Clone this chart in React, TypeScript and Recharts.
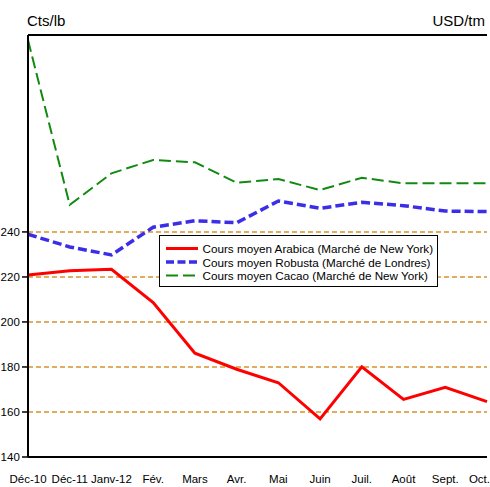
import React from "react";
import {
  LineChart,
  Line,
  XAxis,
  YAxis,
  CartesianGrid,
  ReferenceLine,
  Legend,
} from "recharts";

const months = ["Déc-10", "Déc-11", "Janv-12", "Fév.", "Mars", "Avr.", "Mai", "Juin", "Juil.", "Août", "Sept.", "Oct."];
const arabica = [220.9, 222.7, 223.4, 208.6, 186.1, 179, 173, 156.9, 180.1, 165.6, 171, 164.6];
const robusta = [1938, 1870, 1827, 1976, 2011, 2000, 2117, 2078, 2110, 2092, 2063, 2060];
const cacao = [2983, 2096, 2266, 2338, 2325, 2216, 2235, 2176, 2242, 2212, 2212, 2212];

const leftTicks = [140, 160, 180, 200, 220, 240];
const rightTicks = [1800, 2000, 2200, 2400, 2600, 2800, 3000];
const leftDomain = [140, 327.5];
const rightDomain = [740, 3010];

const seriesNames = [
  "Cours moyen Arabica (Marché de New York)",
  "Cours moyen Robusta (Marché de Londres)",
  "Cours moyen Cacao (Marché de New York)",
];

const data = months.map((m, i) => ({
  month: m,
  arabica: arabica[i],
  robusta: robusta[i],
  cacao: cacao[i],
}));

const FONT = "'Liberation Sans', Arial, sans-serif";

const XTick = (props: any) => {
  const { x, y, payload, index } = props;
  const last = index === months.length - 1;
  return (
    <text
      x={last ? x + 3 : x}
      y={y}
      dy="0.71em"
      textAnchor={last ? "end" : "middle"}
      fontSize={11.5}
      fontFamily={FONT}
      fill="#000"
    >
      {payload.value}
    </text>
  );
};

const YTick = (props: any) => {
  const { y, payload } = props;
  return (
    <text
      x={19.8}
      y={y}
      dy="0.355em"
      textAnchor="end"
      fontSize={11.5}
      fontFamily={FONT}
      fill="#000"
    >
      {payload.value}
    </text>
  );
};

const legendStyles = [
  { stroke: "#FF0000", width: 3, dash: undefined as string | undefined },
  { stroke: "#3A2EE8", width: 3.5, dash: "8 3.5" },
  { stroke: "#128A12", width: 2, dash: "12 5" },
];

const LegendBox = () => (
  <div
    style={{
      width: 279,
      height: 52,
      boxSizing: "border-box",
      border: "1.5px solid #000",
      background: "#fff",
    }}
  >
    <svg width={276} height={49} style={{ display: "block" }}>
      {seriesNames.map((name, i) => {
        const cy = 12.5 + i * 13.5;
        const s = legendStyles[i];
        return (
          <g key={name}>
            <line
              x1={6}
              x2={38}
              y1={cy}
              y2={cy}
              stroke={s.stroke}
              strokeWidth={s.width}
              strokeDasharray={s.dash}
            />
            <text
              x={42.5}
              y={cy + 4.5}
              fontSize={11.7}
              fontFamily={FONT}
              fill="#000"
            >
              {name}
            </text>
          </g>
        );
      })}
    </svg>
  </div>
);

export default function App() {
  return (
    <div style={{ position: "absolute", left: 0, top: 0, width: 490, height: 487, background: "#fff" }}>
      <div
        style={{
          position: "absolute",
          left: 27,
          top: 13,
          fontFamily: FONT,
          fontSize: 15,
          lineHeight: "15px",
          color: "#000",
        }}
      >
        Cts/lb
      </div>
      <div
        style={{
          position: "absolute",
          right: 5,
          top: 13,
          fontFamily: FONT,
          fontSize: 15,
          lineHeight: "15px",
          color: "#000",
        }}
      >
        USD/tm
      </div>
      <LineChart
        width={490}
        height={487}
        data={data}
        margin={{ top: 35, right: 3, bottom: 0, left: 0 }}
      >
        <CartesianGrid
          yAxisId="left"
          vertical={false}
          stroke="#D9922B"
          strokeWidth={1.5}
          strokeDasharray="5 3"
        />
        <XAxis
          dataKey="month"
          height={30}
          axisLine={{ stroke: "#000", strokeWidth: 2 }}
          tickLine={false}
          tickMargin={12}
          interval={0}
          tick={<XTick />}
        />
        <YAxis
          yAxisId="left"
          orientation="left"
          width={28}
          domain={leftDomain}
          ticks={leftTicks}
          allowDataOverflow
          axisLine={{ stroke: "#000", strokeWidth: 2 }}
          tickLine={{ stroke: "#000", strokeWidth: 1.5 }}
          tickSize={6}
          tick={<YTick />}
        />
        <YAxis
          yAxisId="right"
          orientation="right"
          width={0}
          domain={rightDomain}
          ticks={rightTicks}
          allowDataOverflow
          axisLine={{ stroke: "#000", strokeWidth: 2 }}
          tickLine={{ stroke: "#000", strokeWidth: 1.5 }}
          tickSize={4}
          tickFormatter={() => ""}
        />
        <ReferenceLine yAxisId="left" y={leftDomain[1]} stroke="#000" strokeWidth={2} />
        <Line
          yAxisId="right"
          dataKey="cacao"
          name={seriesNames[2]}
          stroke="#128A12"
          strokeWidth={2}
          strokeDasharray="12 5"
          dot={false}
          activeDot={false}
          isAnimationActive={false}
        />
        <Line
          yAxisId="right"
          dataKey="robusta"
          name={seriesNames[1]}
          stroke="#3A2EE8"
          strokeWidth={3.5}
          strokeDasharray="9 4"
          dot={false}
          activeDot={false}
          isAnimationActive={false}
        />
        <Line
          yAxisId="left"
          dataKey="arabica"
          name={seriesNames[0]}
          stroke="#FF0000"
          strokeWidth={3}
          dot={false}
          activeDot={false}
          isAnimationActive={false}
        />
        <Legend
          layout="vertical"
          align="center"
          verticalAlign="middle"
          content={<LegendBox />}
          wrapperStyle={{ left: 159, top: 235, width: 279, height: 52 }}
        />
      </LineChart>
    </div>
  );
}
